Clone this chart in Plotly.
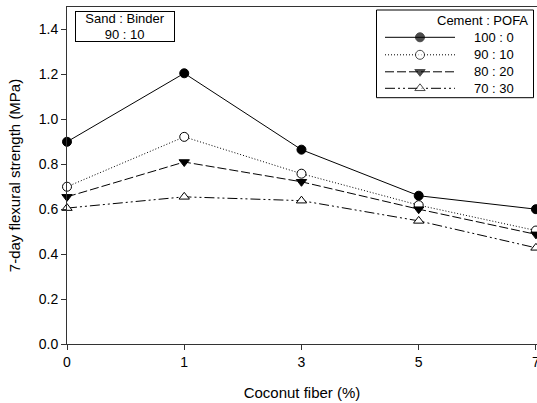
import plotly.graph_objects as go

fiber_labels = ["0", "1", "3", "5", "7"]
series_names = ["100 : 0", "90 : 10", "80 : 20", "70 : 30"]
s_100_0 = [0.90, 1.205, 0.865, 0.66, 0.60]
s_90_10 = [0.70, 0.922, 0.758, 0.618, 0.505]
s_80_20 = [0.655, 0.81, 0.722, 0.60, 0.488]
s_70_30 = [0.605, 0.655, 0.638, 0.548, 0.428]
y_ticks = [0.0, 0.2, 0.4, 0.6, 0.8, 1.0, 1.2, 1.4]

FONT = "Liberation Sans, Arial, sans-serif"
series = [s_100_0, s_90_10, s_80_20, s_70_30]
styles = [
    dict(dash="solid", symbol="circle", fill="black"),
    dict(dash="1px,2px", symbol="circle", fill="white"),
    dict(dash="9px,3px", symbol="triangle-down", fill="black"),
    dict(dash="10px,3px,2px,3px,2px,3px", symbol="triangle-up", fill="white"),
]

# plot area in pixels (for the overlay legend axes)
PL, PR, PT, PB = 67, 537, 7, 344

fig = go.Figure()
for name, vals, st in zip(series_names, series, styles):
    fig.add_trace(go.Scatter(
        x=list(range(len(fiber_labels))), y=vals, name=name,
        mode="lines+markers",
        line=dict(color="black", width=1, dash=st["dash"]),
        marker=dict(symbol=st["symbol"], size=9, color=st["fill"],
                    line=dict(color="black", width=1)),
        cliponaxis=False, showlegend=False,
    ))

# custom legend drawn on a pixel-scaled overlay axis pair
leg_rows_y = [37.3, 54.8, 71.8, 88.3]
for name, st, ry in zip(series_names, styles, leg_rows_y):
    fig.add_trace(go.Scatter(
        x=[385, 420, 455], y=[ry, ry, ry], xaxis="x2", yaxis="y2",
        mode="lines+markers", showlegend=False, hoverinfo="skip",
        line=dict(color="black", width=1, dash=st["dash"]),
        marker=dict(symbol=st["symbol"], size=[0, 9, 0], color=st["fill"],
                    line=dict(color="black", width=[0, 1, 0])),
        cliponaxis=False,
    ))
    fig.add_annotation(
        xref="x2", yref="y2", x=494, y=ry, text=name, showarrow=False,
        xanchor="center", yanchor="middle",
        font=dict(family=FONT, size=13, color="black"),
    )

fig.add_annotation(
    xref="x2", yref="y2", x=530, y=20.5, text="Cement : POFA", showarrow=False,
    xanchor="right", yanchor="middle",
    font=dict(family=FONT, size=13, color="black"),
)
fig.add_shape(
    type="rect", xref="x2", yref="y2", x0=376.5, x1=533.5, y0=10, y1=97.7,
    line=dict(color="black", width=1), fillcolor="rgba(0,0,0,0)", layer="below",
)

fig.add_annotation(
    xref="paper", yref="paper", x=0.1234, y=0.9436,
    xanchor="center", yanchor="middle",
    text="Sand : Binder<br>90 : 10", showarrow=False,
    font=dict(family=FONT, size=13, color="black"),
    bordercolor="black", borderwidth=1, borderpad=0,
    width=98, height=29, bgcolor="white",
)

fig.update_layout(
    width=537, height=403,
    margin=dict(l=PL, r=537 - PR, t=PT, b=403 - PB, autoexpand=False),
    paper_bgcolor="white", plot_bgcolor="white",
    font=dict(family=FONT, size=14, color="black"),
    showlegend=False,
    xaxis=dict(
        range=[0, 4.009], tickmode="array",
        tickvals=list(range(len(fiber_labels))), ticktext=fiber_labels,
        showgrid=False, zeroline=False, showline=True, linecolor="#333",
        linewidth=1, mirror=True, ticks="outside", ticklen=5, tickcolor="#333",
        ticklabeloverflow="allow",
        title=dict(text="Coconut fiber (%)", font=dict(size=15), standoff=18),
    ),
    yaxis=dict(
        range=[0, 1.5], tickmode="array", tickvals=y_ticks,
        ticktext=[f"{v:.1f}" for v in y_ticks],
        showgrid=False, zeroline=False, showline=True, linecolor="#333",
        linewidth=1, mirror=True, ticks="outside", ticklen=5, tickcolor="#333",
        title=dict(text="7-day flexural strength (MPa)", font=dict(size=15), standoff=14),
    ),
    xaxis2=dict(overlaying="x", range=[PL, PR], visible=False, fixedrange=True),
    yaxis2=dict(overlaying="y", range=[PB, PT], visible=False, fixedrange=True),
)

fig.write_html("out.html", post_script="document.body.style.margin='0';",
               config={"displayModeBar": False})
